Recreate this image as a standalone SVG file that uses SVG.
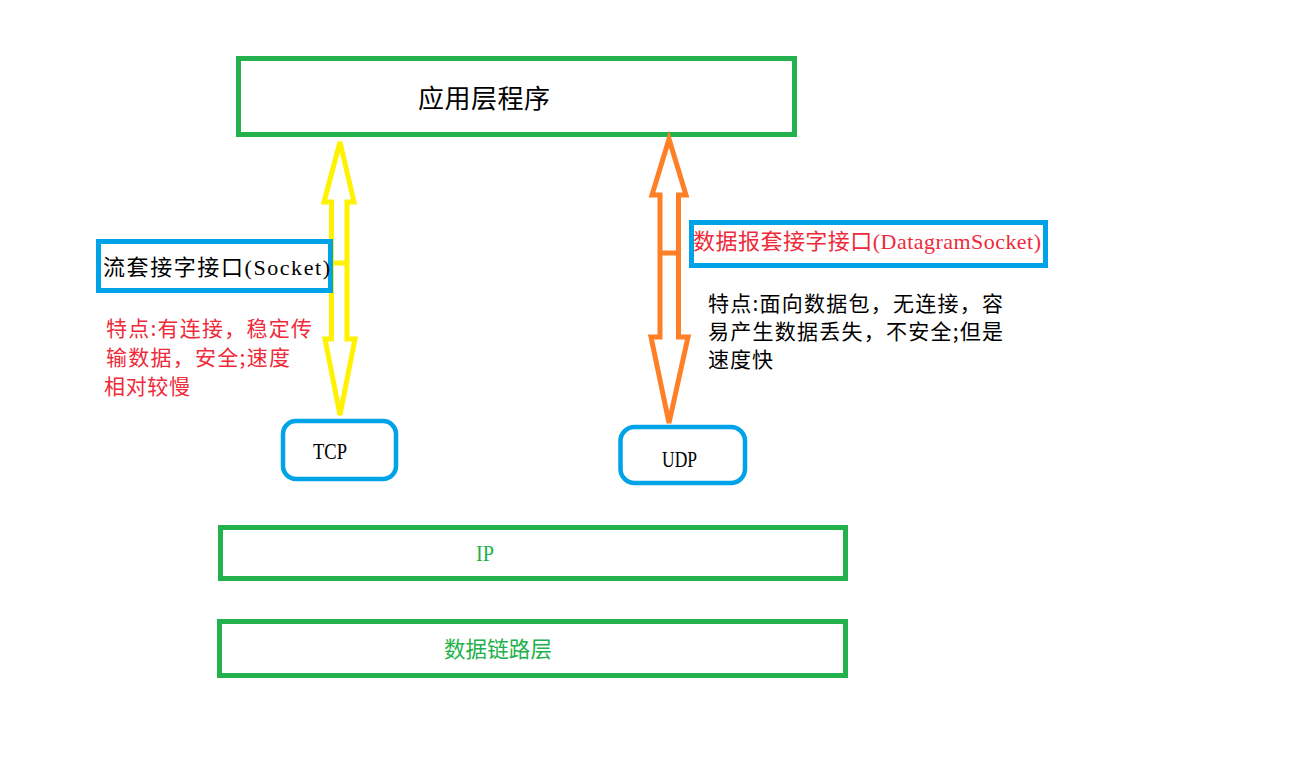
<svg xmlns="http://www.w3.org/2000/svg" width="1293" height="760" viewBox="0 0 1293 760">
<style>
.green{fill:none;stroke:#22b14c;stroke-width:5}
.blue{fill:none;stroke:#00a2e8;stroke-width:5}
.blueR{fill:none;stroke:#00a2e8;stroke-width:4.5}
.t{font-family:"Liberation Serif","Noto Sans CJK SC",serif}
.cjk{font-family:"Noto Sans CJK SC","Liberation Sans",sans-serif}
.blk{fill:#000}
.red{fill:#ef2a3a}
.gtx{fill:#22b14c}
.yel{fill:none;stroke:#fff200;stroke-width:5;stroke-linejoin:miter}
.org{fill:none;stroke:#ff7f27;stroke-width:5;stroke-linejoin:miter}
</style>
<rect width="1293" height="760" fill="#fff"/>
<g id="app">
<rect class="green" x="238.5" y="58.5" width="556" height="76"/>
<text class="cjk blk" x="418" y="108" font-size="26" textLength="132">应用层程序</text>
</g>
<g id="connectors">
<polygon class="yel" points="340,142 354,202 347,202 347,339 355,339 340,415 325,339 331.5,339 331.5,202 324,202"/>
<line x1="331.5" y1="263" x2="347" y2="263" stroke="#fff200" stroke-width="5"/>
<polygon class="org" points="669,139 686,195 678.5,195 678.5,337 688,337 669,423 651,337 660,337 660,195 652,195"/>
<line x1="660" y1="253" x2="678.5" y2="253" stroke="#ff7f27" stroke-width="5"/>
</g>
<g id="stream-socket">
<rect class="blue" x="98.5" y="241.5" width="232" height="49"/>
<text class="t blk" x="103" y="275" font-size="22" textLength="227">流套接字接口(Socket)</text>
</g>
<g id="stream-note">
<text class="cjk red" x="106" y="336" font-size="21" textLength="206">特点:有连接，稳定传</text>
<text class="cjk red" x="106" y="365" font-size="21" textLength="184">输数据，安全;速度</text>
<text class="cjk red" x="104" y="394" font-size="21" textLength="86">相对较慢</text>
</g>
<g id="datagram-socket">
<rect class="blue" x="691.5" y="222.5" width="354" height="43"/>
<text class="t red" x="693" y="249" font-size="22" textLength="348">数据报套接字接口(DatagramSocket)</text>
</g>
<g id="datagram-note">
<text class="cjk blk" x="708" y="311" font-size="21" textLength="295">特点:面向数据包，无连接，容</text>
<text class="cjk blk" x="708" y="339" font-size="21" textLength="295">易产生数据丢失，不安全;但是</text>
<text class="cjk blk" x="708" y="367" font-size="21" textLength="65">速度快</text>
</g>
<g id="tcp">
<rect class="blueR" x="283" y="421" width="113" height="58" rx="13"/>
<text class="t blk" x="313" y="459" font-size="24" textLength="34" lengthAdjust="spacingAndGlyphs">TCP</text>
</g>
<g id="udp">
<rect class="blueR" x="620.5" y="427" width="124.5" height="56" rx="14"/>
<text class="t blk" x="662" y="467" font-size="24" textLength="35" lengthAdjust="spacingAndGlyphs">UDP</text>
</g>
<g id="ip">
<rect class="green" x="220.5" y="527.5" width="625" height="51"/>
<text class="t gtx" x="476" y="561" font-size="23" textLength="18" lengthAdjust="spacingAndGlyphs">IP</text>
</g>
<g id="datalink">
<rect class="green" x="219.5" y="621.5" width="626" height="54"/>
<text class="cjk gtx" x="444" y="657" font-size="21.5" textLength="108">数据链路层</text>
</g>
</svg>
